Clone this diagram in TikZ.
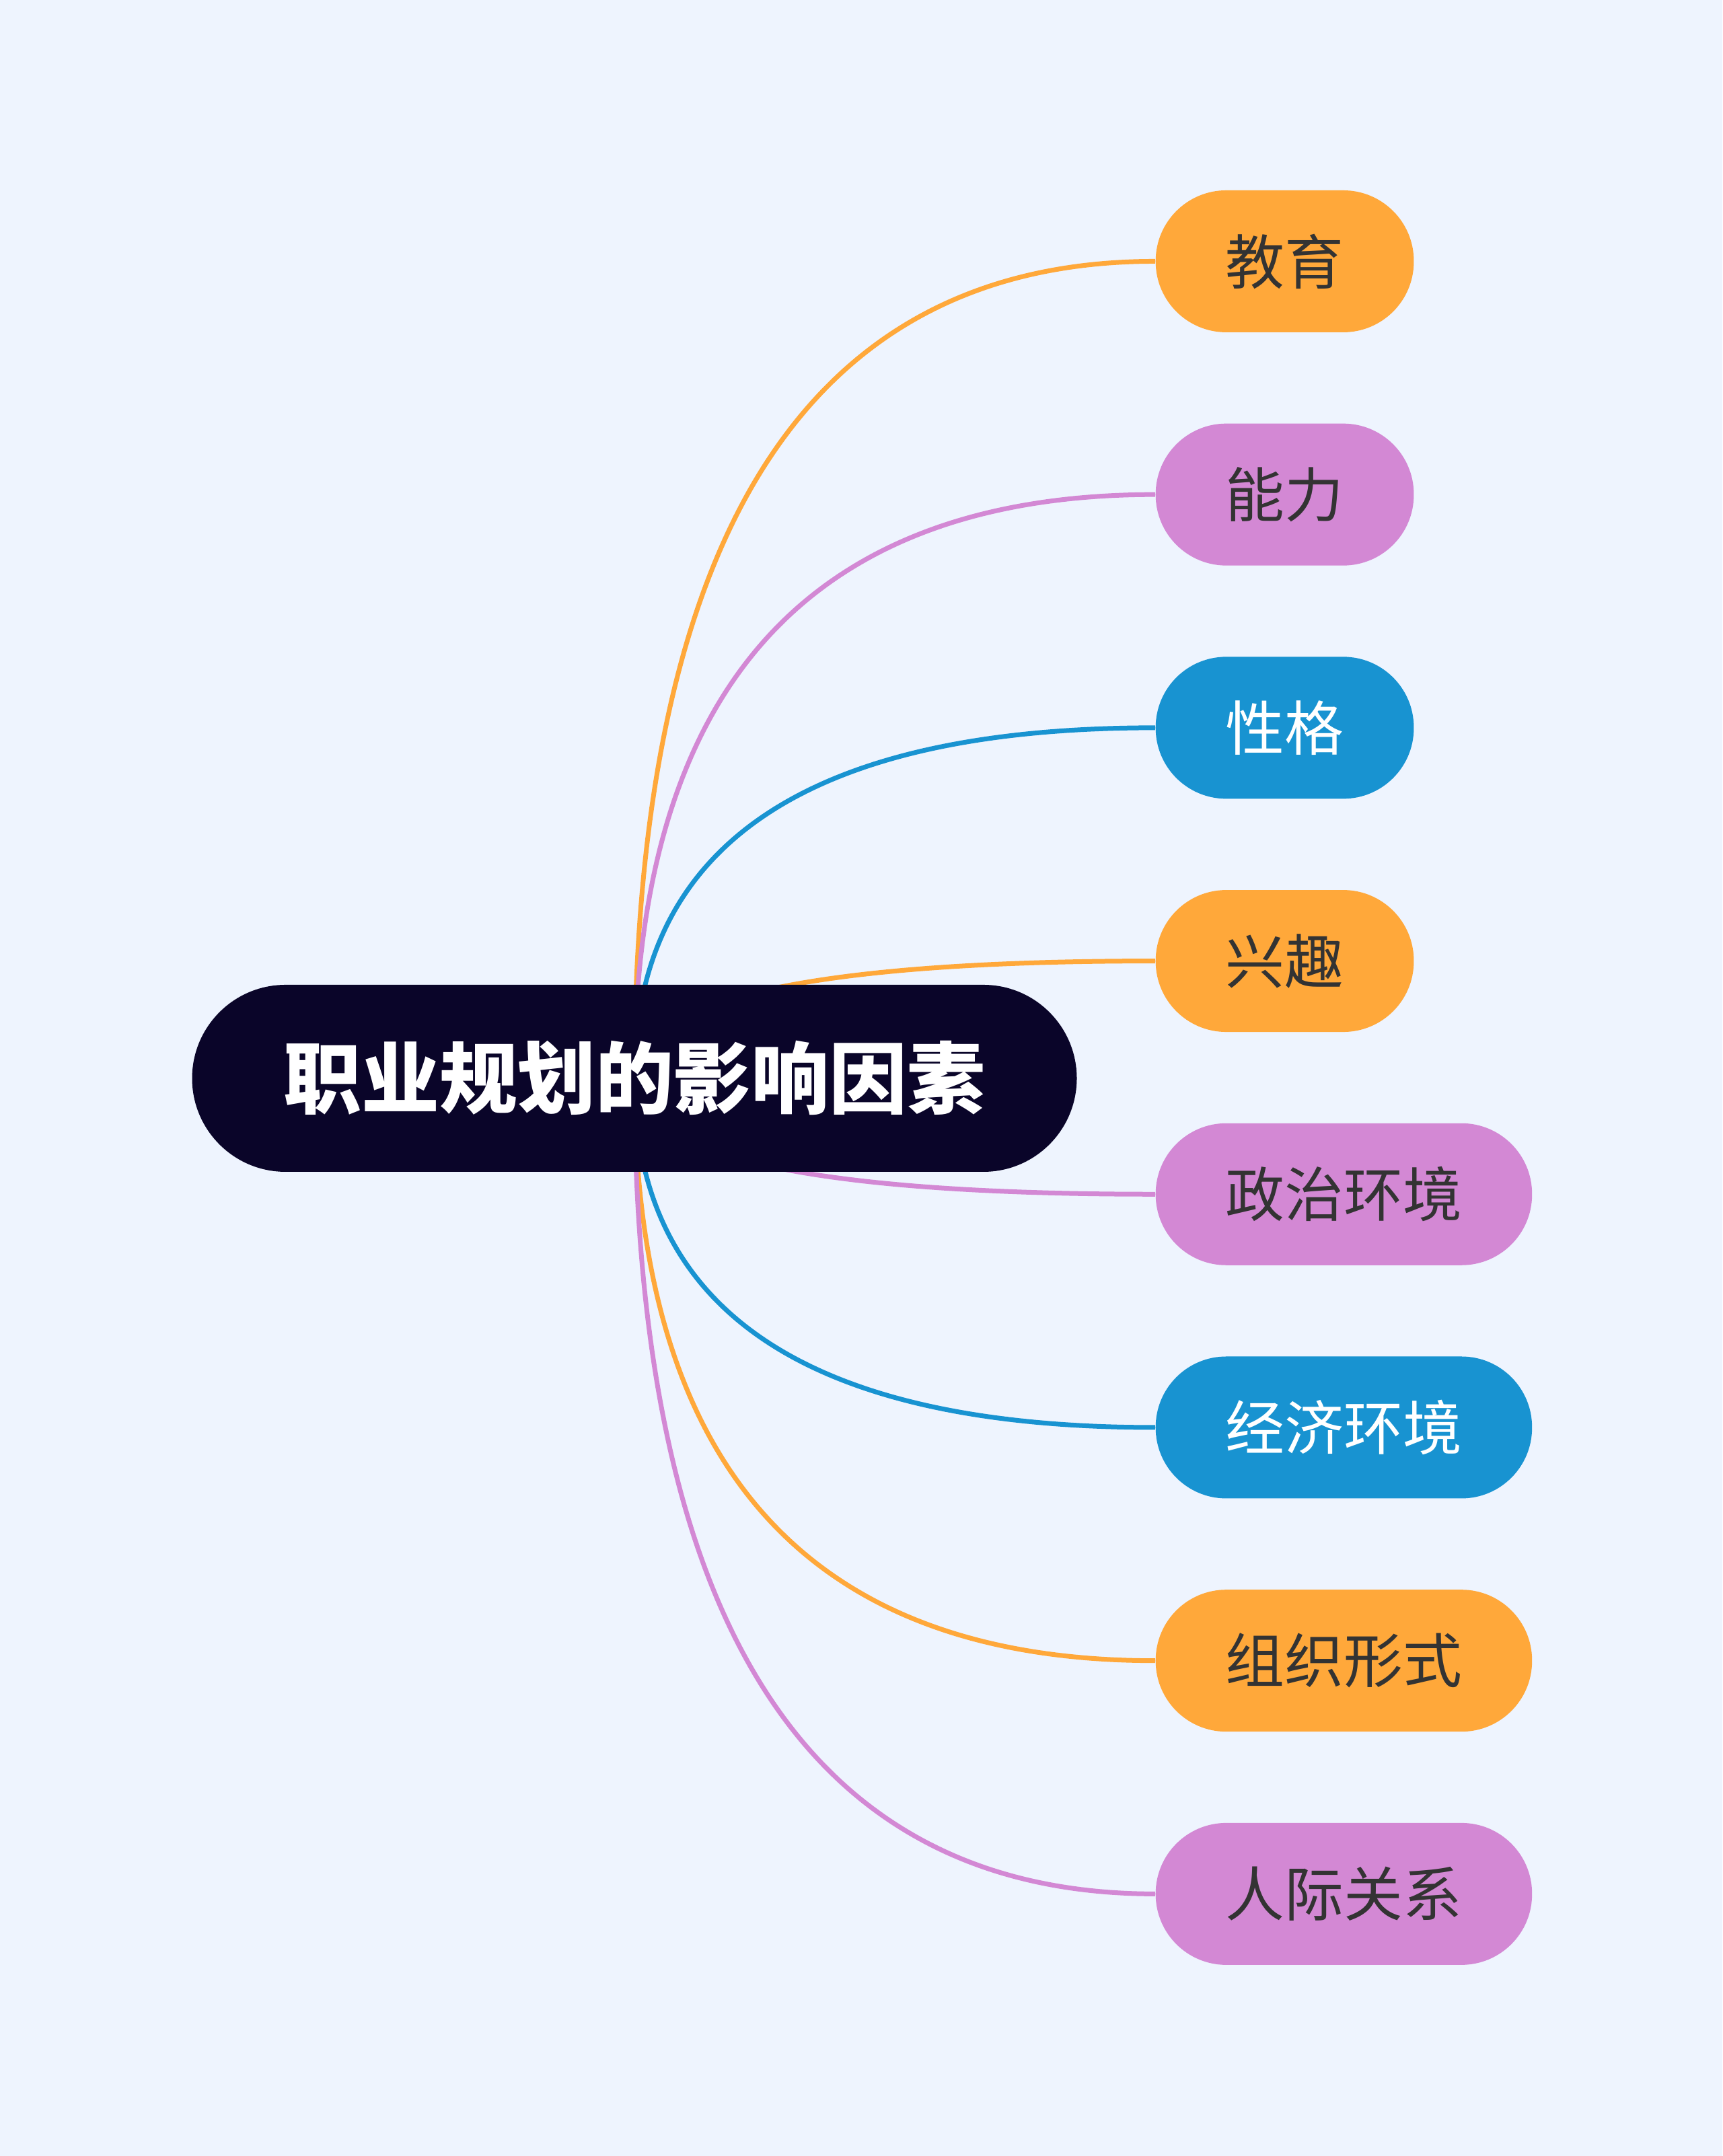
\documentclass[tikz,border=0pt]{standalone}
\usepackage{fontspec}
\setmainfont{Noto Sans CJK SC}
\usetikzlibrary{calc}
\definecolor{pagebg}{HTML}{EEF4FE}
\definecolor{rootfill}{HTML}{0A0529}
\definecolor{leaftext}{HTML}{333333}
\definecolor{branchorange}{HTML}{FFA83A}
\definecolor{branchpink}{HTML}{D388D4}
\definecolor{branchblue}{HTML}{1893D1}
\pgfdeclarelayer{bg}
\pgfdeclarelayer{edges}
\pgfsetlayers{bg,edges,main}
\tikzset{%
	root/.style={shape=rectangle,rounded corners=1.39cm,fill=rootfill,text=white,inner sep=0pt,minimum width=13.15cm,minimum height=2.78cm,font=\fontsize{33}{33}\selectfont\bfseries},
	leaf/.style={shape=rectangle,rounded corners=1.05cm,anchor=west,inner xsep=1.04cm,inner ysep=0pt,minimum height=2.11cm,text=leaftext,font=\fontsize{25}{25}\selectfont},
	orangeleaf/.style={leaf,fill=branchorange},
	pinkleaf/.style={leaf,fill=branchpink},
	blueleaf/.style={leaf,fill=branchblue,text=white},
	link/.style={line width=0.07cm},
}

\begin{document}
\begin{tikzpicture}
			\useasboundingbox (0,0) rectangle (25.6,32.05);
			\begin{pgfonlayer}{bg}
			\fill[pagebg] (0,0) rectangle (25.6,32.05);
			\end{pgfonlayer}
			
			%KOREN
			\node[root] (root) at (9.43, 16.02) {职业规划的影响因素};
			
			%LISTI
			\node[orangeleaf] (jiaoyu) at (17.17, 28.165) {教育};
			\node[pinkleaf] (nengli) at (17.17, 24.698) {能力};
			\node[blueleaf] (xingge) at (17.17, 21.231) {性格};
			\node[orangeleaf] (xingqu) at (17.17, 17.764) {兴趣};
			\node[pinkleaf] (zhengzhi) at (17.17, 14.297) {政治环境};
			\node[blueleaf] (jingji) at (17.17, 10.830) {经济环境};
			\node[orangeleaf] (zuzhi) at (17.17, 7.363) {组织形式};
			\node[pinkleaf] (renji) at (17.17, 3.896) {人际关系};
			
			%VEJE
			\begin{pgfonlayer}{edges}
			\foreach \leaf/\col in {jiaoyu/branchorange, nengli/branchpink, xingge/branchblue, xingqu/branchorange, zhengzhi/branchpink, jingji/branchblue, zuzhi/branchorange, renji/branchpink}
				\draw[link, \col] (root.center) .. controls ($(root.center)!2/3!(root.center |- \leaf.west)$) and ($(\leaf.west)!2/3!(root.center |- \leaf.west)$) .. (\leaf.west);
			\end{pgfonlayer}
			
			\end{tikzpicture}
\end{document}
